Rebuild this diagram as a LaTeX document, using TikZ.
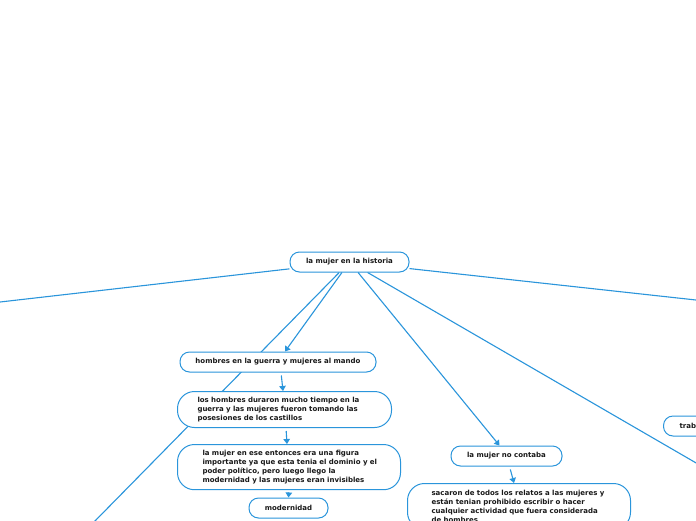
\documentclass[tikz,border=0pt]{standalone}
\usepackage{fontspec}
\setmainfont{DejaVu Sans}
\usetikzlibrary{arrows.meta,calc}
\definecolor{mmblue}{HTML}{2A95DB}
\pgfdeclarelayer{bgzero}
\pgfdeclarelayer{background}
\pgfsetlayers{bgzero,background,main}
\begin{document}
\begin{tikzpicture}[x=1pt,y=-1pt,
  every node/.style={font=\fontsize{7.0}{8.8}\selectfont\bfseries, text=black!90},
  onebox/.style={draw=mmblue, line width=1pt, fill=white, rounded corners=9.5pt, minimum height=20pt, inner sep=0pt},
  multibox/.style={draw=mmblue, line width=1pt, fill=white, rounded corners=17pt, align=left, inner ysep=6pt},
  conn/.style={draw=mmblue, line width=1.1pt},
  arr/.style={conn, -{Triangle[width=6.5pt,length=5pt]}}]
\begin{pgfonlayer}{bgzero}
\fill[white] (0,0) rectangle (696,520);
\end{pgfonlayer}
\useasboundingbox (0,0) rectangle (696,520);
\clip (0,0) rectangle (696,520);

\node[onebox, minimum width=119pt] (root) at (349.5,262) {la mujer en la historia};
\node[onebox, minimum width=196pt] (n1) at (278,362) {hombres en la guerra y mujeres al mando};
\node[multibox, anchor=north west, text width=174pt, inner xsep=20pt, inner ysep=5.5pt, minimum height=36pt] (n2) at (177,391)
  {\mbox{los hombres duraron mucho tiempo en la}\\\mbox{guerra y las mujeres fueron tomando las}\\\mbox{posesiones de los castillos}};
\node[multibox, anchor=north west, text width=173pt, inner xsep=25pt, minimum height=45pt] (n3) at (177,444)
  {\mbox{la mujer en ese entonces era una figura}\\\mbox{importante ya que esta tenia el dominio y el}\\\mbox{poder político, pero luego llego la}\\\mbox{modernidad y las mujeres eran invisibles}};
\node[onebox, minimum width=79pt] (n4) at (288.5,508) {modernidad};
\node[onebox, minimum width=111pt] (n5) at (506.5,456) {la mujer no contaba};
\node[multibox, anchor=north west, text width=175pt, inner xsep=24pt, inner ysep=7pt] (n6) at (407,483)
  {\mbox{sacaron de todos los relatos a las mujeres y}\\\mbox{están tenian prohibido escribir o hacer}\\\mbox{cualquier actividad que fuera considerada}\\\mbox{de hombres}};
\node[onebox, anchor=west, minimum width=80pt, text width=64pt, inner xsep=16pt, align=left] (n7) at (663,426) {trab};

\coordinate (offL) at (0,302);
\coordinate (offR) at (696,300);
\coordinate (offBL) at (-20,638);
\coordinate (offBR) at (760,500);

\begin{pgfonlayer}{background}
\draw[conn] (root) -- (offL);
\draw[conn] (root) -- (offR);
\draw[conn] (root) -- (offBL);
\draw[conn] (root) -- (offBR);
\end{pgfonlayer}
\draw[arr] (root) -- ($(n1.north)+(7,0)$);
\draw[arr, shorten <=3pt] ($(n1.south)+(3,0)$) -- ($(n2.north west)+(106,0)$);
\draw[arr, shorten <=3pt] ($(n2.south west)+(109,0)$) -- ($(n3.north west)+(110,0)$);
\draw[arr, shorten <=2pt] ($(n3.south west)+(112,0)$) -- (n4.north);
\draw[arr] (root) -- ($(n5.north)+(-7,0)$);
\draw[arr, shorten <=3pt] ($(n5.south)+(3,0)$) -- ($(n6.north west)+(107,0)$);
\end{tikzpicture}
\end{document}
